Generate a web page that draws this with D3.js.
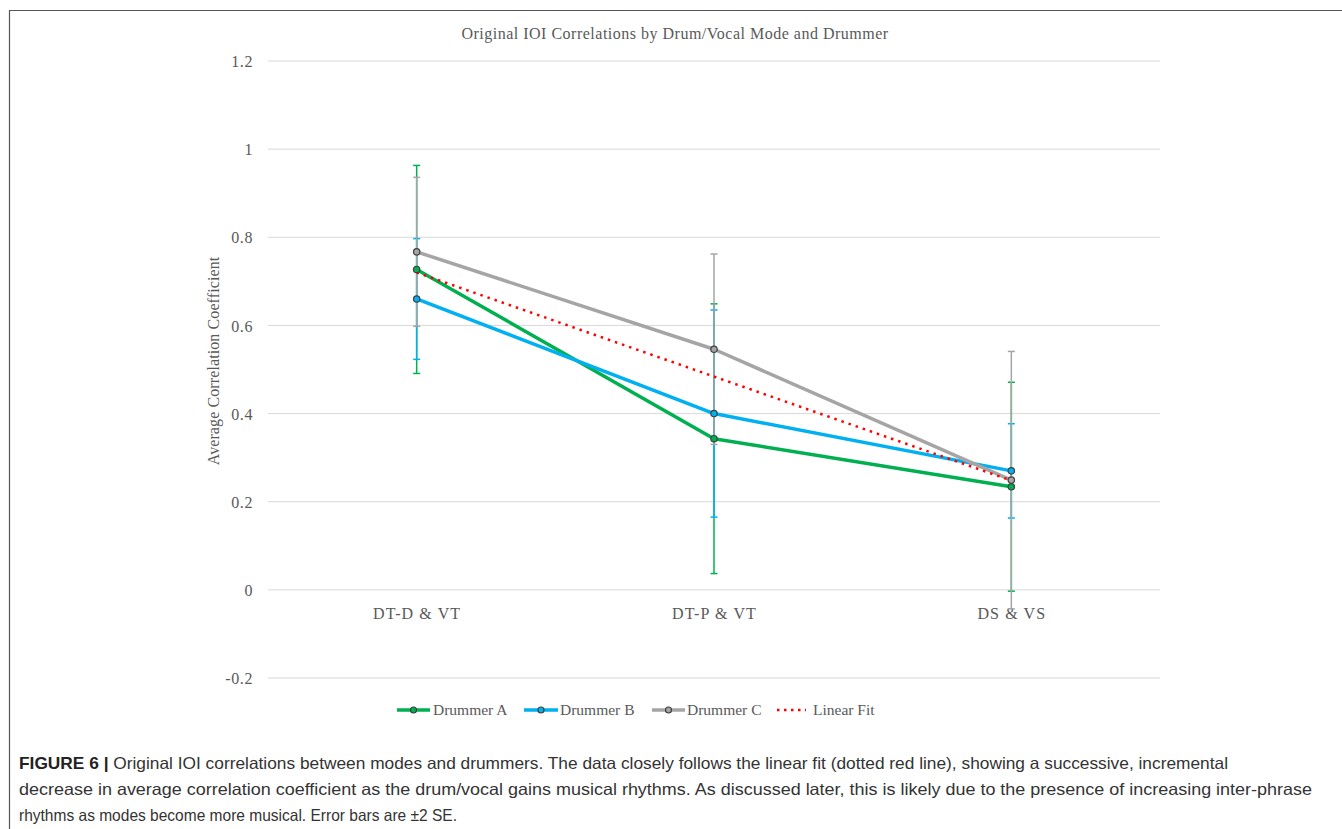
<!DOCTYPE html>
<html><head><meta charset="utf-8">
<script src="https://cdn.jsdelivr.net/npm/d3@7"></script>
<style>body{margin:0;background:#fff;}svg{display:block;}</style>
</head><body>
<svg id="chart" width="1342" height="829"></svg>
<script>
const categories = ["DT-D & VT", "DT-P & VT", "DS & VS"];
const yTicks = [-0.2, 0, 0.2, 0.4, 0.6, 0.8, 1, 1.2];
const yTickLabels = ["-0.2", "0", "0.2", "0.4", "0.6", "0.8", "1", "1.2"];
const drummerA = [0.727, 0.343, 0.234];
const drummerB = [0.660, 0.400, 0.270];
const drummerC = [0.767, 0.546, 0.249];
const linearFit = [0.720, 0.484, 0.248];
const errA = [0.236, 0.306, 0.237];
const errB = [0.137, 0.235, 0.107];
const errC = [0.169, 0.216, 0.292];
const seriesNames = ["Drummer A", "Drummer B", "Drummer C"];
const seriesColors = ["#00B050", "#00B0F0", "#A5A5A5"];

const svg = d3.select("#chart");
const serif = "'Liberation Serif', 'Times New Roman', serif";
const textCol = "#595959";

// frame
svg.append("path").attr("d", "M9.5,829 V10.5 H1342").attr("fill", "none").attr("stroke", "#555").attr("stroke-width", 1.2);

const y = d3.scaleLinear().domain([-0.2, 1.2]).range([678, 61]);
const x = d3.scalePoint().domain(categories).range([268, 1160]).padding(0.5);

// gridlines
svg.append("g").selectAll("line").data(yTicks).join("line")
  .attr("x1", 268).attr("x2", 1160)
  .attr("y1", d => y(d)).attr("y2", d => y(d))
  .attr("stroke", "#d9d9d9").attr("stroke-width", 1);

// y axis labels
const yAxis = d3.axisLeft(y).tickValues(yTicks).tickSize(0).tickPadding(0)
  .tickFormat((d, i) => yTickLabels[i]);
const yg = svg.append("g").attr("transform", "translate(253,0)").call(yAxis);
yg.select(".domain").remove();
yg.selectAll("text").attr("font-family", serif).attr("font-size", 16).attr("letter-spacing", 0.6)
  .attr("fill", textCol).attr("dy", "0.35em");

// x axis labels
const xAxis = d3.axisBottom(x).tickSize(0).tickPadding(0);
const xg = svg.append("g").attr("transform", "translate(0,608)").call(xAxis);
xg.select(".domain").remove();
xg.selectAll("text").attr("font-family", serif).attr("font-size", 16).attr("letter-spacing", 1.1)
  .attr("fill", textCol).attr("dy", "0.71em");

// title
svg.append("text").attr("x", 675).attr("y", 39).attr("text-anchor", "middle")
  .attr("font-family", serif).attr("font-size", 16).attr("letter-spacing", 0.5).attr("fill", textCol)
  .text("Original IOI Correlations by Drum/Vocal Mode and Drummer");

// y title
svg.append("text").attr("transform", "translate(219,361) rotate(-90)").attr("text-anchor", "middle")
  .attr("font-family", serif).attr("font-size", 16).attr("letter-spacing", 0.1).attr("fill", textCol)
  .text("Average Correlation Coefficient");

const data = [drummerA, drummerB, drummerC];
const errs = [errA, errB, errC];

// error bars
data.forEach((vals, si) => {
  const g = svg.append("g");
  vals.forEach((v, i) => {
    const cx = x(categories[i]);
    const e = errs[si][i];
    g.append("line").attr("x1", cx).attr("x2", cx).attr("y1", y(v + e)).attr("y2", y(v - e))
      .attr("stroke", seriesColors[si]).attr("stroke-width", 1.5);
    [v + e, v - e].forEach(t => g.append("line").attr("x1", cx - 3.5).attr("x2", cx + 3.5)
      .attr("y1", y(t)).attr("y2", y(t)).attr("stroke", seriesColors[si]).attr("stroke-width", 1.5));
  });
});

const line = d3.line().x((d, i) => x(categories[i])).y(d => y(d));
data.forEach((vals, si) => {
  svg.append("path").datum(vals).attr("d", line).attr("fill", "none")
    .attr("stroke", seriesColors[si]).attr("stroke-width", 3.5).attr("stroke-linejoin", "round");
});
svg.append("path").datum(linearFit).attr("d", line).attr("fill", "none")
  .attr("stroke", "#FF0000").attr("stroke-width", 2.5).attr("stroke-dasharray", "2.5,5").attr("stroke-linecap", "butt");
data.forEach((vals, si) => {
  svg.append("g").selectAll("circle").data(vals).join("circle")
    .attr("cx", (d, i) => x(categories[i])).attr("cy", d => y(d)).attr("r", 3.2)
    .attr("fill", seriesColors[si]).attr("stroke", "#404040").attr("stroke-width", 1.2);
});

// legend
const legendItems = [
  {name: "Drummer A", color: seriesColors[0], x0: 397, x1: 430, tx: 433, marker: true},
  {name: "Drummer B", color: seriesColors[1], x0: 524, x1: 558, tx: 560, marker: true},
  {name: "Drummer C", color: seriesColors[2], x0: 652, x1: 685, tx: 687, marker: true},
  {name: "Linear Fit", color: "#FF0000", x0: 777, x1: 806, tx: 813, marker: false}
];
const ly = 710;
legendItems.forEach(it => {
  if (it.marker) {
    svg.append("line").attr("x1", it.x0).attr("x2", it.x1).attr("y1", ly).attr("y2", ly)
      .attr("stroke", it.color).attr("stroke-width", 3.5);
    svg.append("circle").attr("cx", (it.x0 + it.x1) / 2).attr("cy", ly).attr("r", 3)
      .attr("fill", it.color).attr("stroke", "#404040").attr("stroke-width", 1.2);
  } else {
    svg.append("line").attr("x1", it.x0).attr("x2", it.x1).attr("y1", ly).attr("y2", ly)
      .attr("stroke", it.color).attr("stroke-width", 2.5).attr("stroke-dasharray", "2.5,4.5");
  }
  svg.append("text").attr("x", it.tx).attr("y", ly).attr("dy", "0.35em")
    .attr("font-family", serif).attr("font-size", 15.5).attr("fill", textCol).text(it.name);
});

// caption
const sans = "'Liberation Sans', Arial, sans-serif";
const capLines = [
  [{b: true, t: "FIGURE 6 | "}, {b: false, t: "Original IOI correlations between modes and drummers. The data closely follows the linear fit (dotted red line), showing a successive, incremental"}],
  [{b: false, t: "decrease in average correlation coefficient as the drum/vocal gains musical rhythms. As discussed later, this is likely due to the presence of increasing inter-phrase"}],
  [{b: false, t: "rhythms as modes become more musical. Error bars are \u00B12 SE."}]
];
const capWidths = [1209, 1293, 438];
capLines.forEach((parts, li) => {
  const t = svg.append("text").attr("x", 19).attr("y", 769 + li * 26)
    .attr("font-family", sans).attr("font-size", 16.5).attr("fill", "#333")
    .attr("textLength", capWidths[li]).attr("lengthAdjust", "spacingAndGlyphs");
  parts.forEach(p => t.append("tspan").attr("font-weight", p.b ? "bold" : "normal").attr("fill", p.b ? "#222" : "#333").text(p.t));
});
</script>
</body></html>
